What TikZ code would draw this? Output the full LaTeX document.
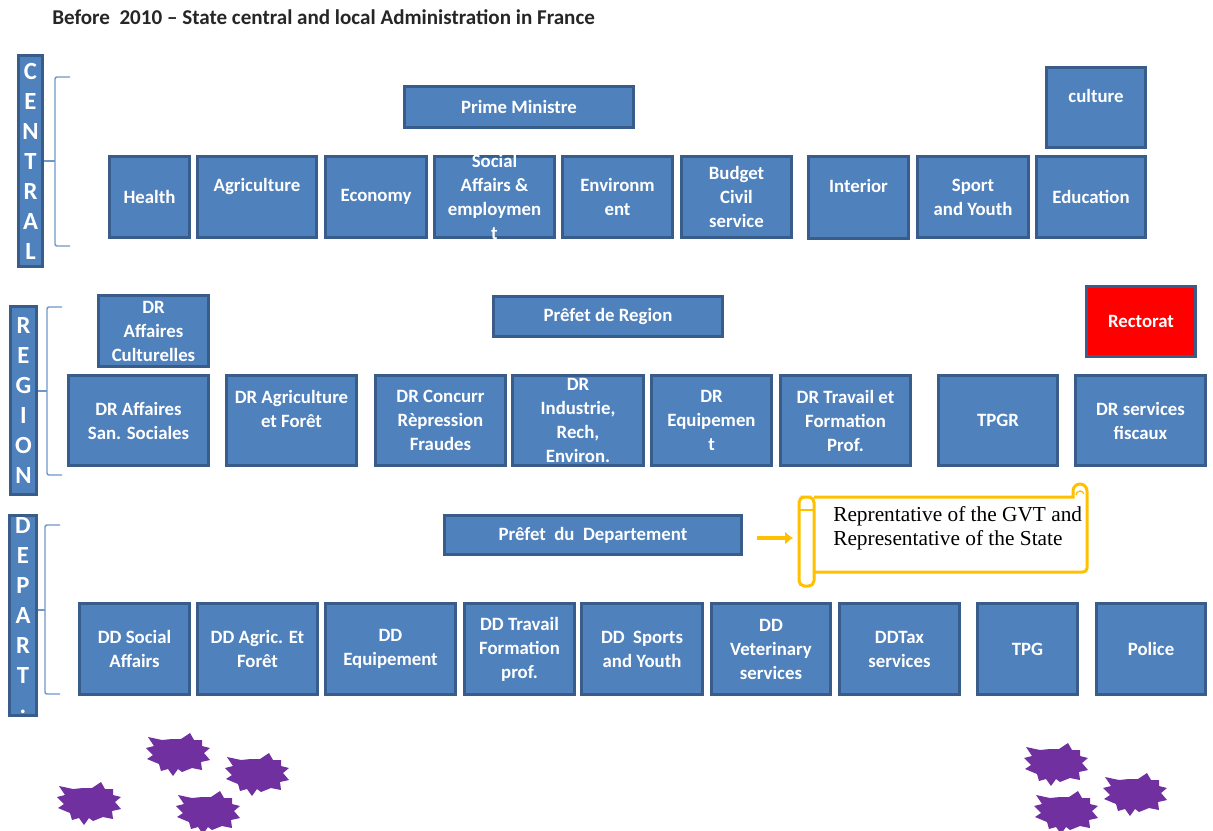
\documentclass[tikz,border=0pt]{standalone}
\usepackage{fontspec}
\setmainfont{Carlito}
\newfontfamily\scrollfont{Liberation Serif}
\usetikzlibrary{arrows.meta}
\definecolor{blkfill}{HTML}{4F81BD}
\definecolor{blkline}{HTML}{385D8A}
\definecolor{bracecol}{HTML}{6F97C8}
\definecolor{gold}{HTML}{FFC000}
\definecolor{burstcol}{HTML}{7030A0}
\tikzset{
  x=0.75pt,y=-0.75pt,
  blk/.style={draw=blkline,fill=blkfill,line width=2.25pt,text=white,inner sep=0pt,align=center,
    font=\fontsize{14.1}{18}\selectfont\bfseries},
  tallblk/.style={blk,inner ysep=-8pt},
  redblk/.style={blk,fill=red,draw=blkline},
  vlabel/.style={blk,font=\fontsize{18.5}{22.5}\selectfont\bfseries},
  bracel/.style={draw=bracecol,line width=1.1pt,rounded corners=1.5pt},
  scrollline/.style={draw=gold,line width=2.25pt},
  scrollroll/.style={scrollline,rounded corners=4pt},
  goldarrow/.style={draw=gold,line width=3.6pt,-{Latex[length=6pt,width=10pt]}},
  burstshape/.style={fill=burstcol},
  titletext/.style={font=\fontsize{15.8}{18}\selectfont\bfseries,text=black!85,anchor=west,inner sep=0pt},
  scrolltext/.style={font=\scrollfont\fontsize{16}{18}\selectfont,text=black,align=left,anchor=north west,inner sep=0pt}
}
\newcommand\bx[7][blk]{\node[#1,minimum width={(#5-#3-1)*0.75pt},minimum height={(#6-#4-1)*0.75pt}] (#2) at ({(#3+#5)/2},{(#4+#6)/2}) {#7};}
\newcommand\burst[2]{\fill[burstshape,shift={(#1,#2)}]
 (-30,-17)--(-16,-14)--(-6,-15)--(3,-15)--(12,-21)--(16,-14)--(24,-14)--(24,-8)--(32,-6)--(26,-1)--(32,6)--(23,8)--(24,16)--(14,14)--(4,18)--(0,15)--(-5,22)--(-10,15)--(-17,17)--(-19,10)--(-31,5)--(-25,1)--(-32,-6)--(-24,-8)--cycle;}
\begin{document}
\begin{tikzpicture}
\useasboundingbox (0,0) rectangle (1213,831);
\node[titletext] (title) at (52,17) {Before\ \ 2010 – State central and local Administration in France};

% labels
\bx[vlabel]{CENTRAL}{18}{55}{43}{267}{C\\E\\N\\T\\R\\A\\L}
\bx[vlabel]{REGION}{10}{306}{37}{495}{R\\E\\G\\I\\O\\N}
\begin{scope}
\clip (0,505) rectangle (60,716);
\node[vlabel,minimum width=20pt,minimum height=150pt,anchor=north] (DEPART) at (23,514) {D\\E\\P\\A\\R\\T\\.};
\end{scope}

% central
\bx{prime}{404}{86}{634}{128}{Prime Ministre}
\bx{culture}{1046}{67}{1146}{148}{culture\\\mbox{}}
\bx{health}{109}{156}{190}{238}{Health}
\bx{agri}{197}{156}{317}{238}{Agriculture\\\mbox{}}
\bx{eco}{325}{156}{427}{238}{Economy}
\bx[tallblk]{social}{434}{156}{555}{238}{Social\\Affairs \&\\employmen\\t}
\bx{env}{562}{156}{673}{238}{Environm\\ent}
\bx{budget}{681}{156}{792}{238}{Budget\\Civil\\service}
\bx{inter}{808}{156}{909}{239}{Interior\\\mbox{}}
\bx{sport}{917}{156}{1029}{238}{Sport\\and Youth}
\bx{edu}{1036}{156}{1146}{238}{Education}

% region
\bx[tallblk]{drcult}{98}{295}{209}{367}{DR\\Affaires\\Culturelles}
\bx{prefreg}{493}{296}{723}{337}{Prêfet de Region}
\bx[redblk]{rect}{1086}{286}{1196}{357}{Rectorat}
\bx{drsan}{68}{375}{209}{466}{DR Affaires\\San. Sociales}
\bx{dragri}{226}{375}{357}{466}{DR Agriculture\\et Forêt\\\mbox{}}
\bx{drconc}{375}{375}{506}{466}{DR Concurr\\Rèpression\\Fraudes}
\bx[tallblk]{drind}{512}{375}{644}{466}{DR\\Industrie,\\Rech,\\Environ.}
\bx{drequip}{651}{375}{772}{466}{DR\\Equipemen\\t}
\bx{drtrav}{780}{375}{911}{466}{DR Travail et\\Formation\\Prof.}
\bx{tpgr}{938}{375}{1058}{466}{TPGR}
\bx{drfisc}{1075}{375}{1206}{466}{DR services\\fiscaux}

% department
\bx{prefdep}{444}{515}{742}{555}{Prêfet\ \ du\ \ Departement}
\bx{ddsoc}{79}{603}{190}{695}{DD Social\\Affairs}
\bx{ddagr}{197}{603}{318}{695}{DD Agric. Et\\Forêt}
\bx{ddequ}{325}{603}{456}{695}{DD\\Equipement}
\bx{ddtrav}{464}{603}{575}{695}{DD Travail\\Formation\\prof.}
\bx{ddsp}{581}{603}{703}{695}{DD\ \ Sports\\and Youth}
\bx{ddvet}{711}{603}{831}{695}{DD\\Veterinary\\services}
\bx{ddtax}{839}{603}{960}{695}{DDTax\\services}
\bx{tpg}{977}{603}{1078}{695}{TPG}
\bx{police}{1096}{603}{1206}{695}{Police}

% braces
\coordinate (ctop) at (70,77); \coordinate (cmid) at (55,161); \coordinate (cbot) at (70,246);
\draw[bracel] (ctop) -- (55,77) -- (cmid) -- (55,246) -- (cbot);
\draw[bracel] (CENTRAL.east |- cmid) -- (cmid);
\coordinate (rtop) at (62,307); \coordinate (rmid) at (47,391); \coordinate (rbot) at (62,475);
\draw[bracel] (rtop) -- (47,307) -- (rmid) -- (47,475) -- (rbot);
\draw[bracel] (REGION.east |- rmid) -- (rmid);
\coordinate (dtop) at (60,525); \coordinate (dmid) at (45,610); \coordinate (dbot) at (60,694);
\draw[bracel] (dtop) -- (45,525) -- (dmid) -- (45,694) -- (dbot);
\draw[bracel] (DEPART.east |- dmid) -- (dmid);

% scroll
\draw[scrollline] (814,497) -- (1073,497) -- (1073,491) arc[start angle=180,end angle=360,radius=7] -- (1087,568) arc[start angle=0,end angle=90,radius=4] -- (814,572);
\draw[scrollroll] (806,497) -- (814,497) -- (814,586) -- (799,586) -- (799,497) -- cycle;
\draw[draw=gold,line width=1.5pt] (799,510) -- (814,510);
\draw[draw=gold,line width=1pt] (1076,495) arc[start angle=180,end angle=340,radius=4];
\node[scrolltext] (scrolltxt) at (833,506) {Reprentative of the GVT and\\Representative of the State};
\coordinate (arrS) at (757,538); \coordinate (arrE) at (793,538);
\draw[goldarrow] (arrS) -- (arrE);

% bursts
\burst{178}{754}
\burst{257}{774}
\burst{89}{803}
\burst{208}{812}
\burst{1056}{764}
\burst{1135}{794}
\burst{1066}{812}
\end{tikzpicture}
\end{document}
